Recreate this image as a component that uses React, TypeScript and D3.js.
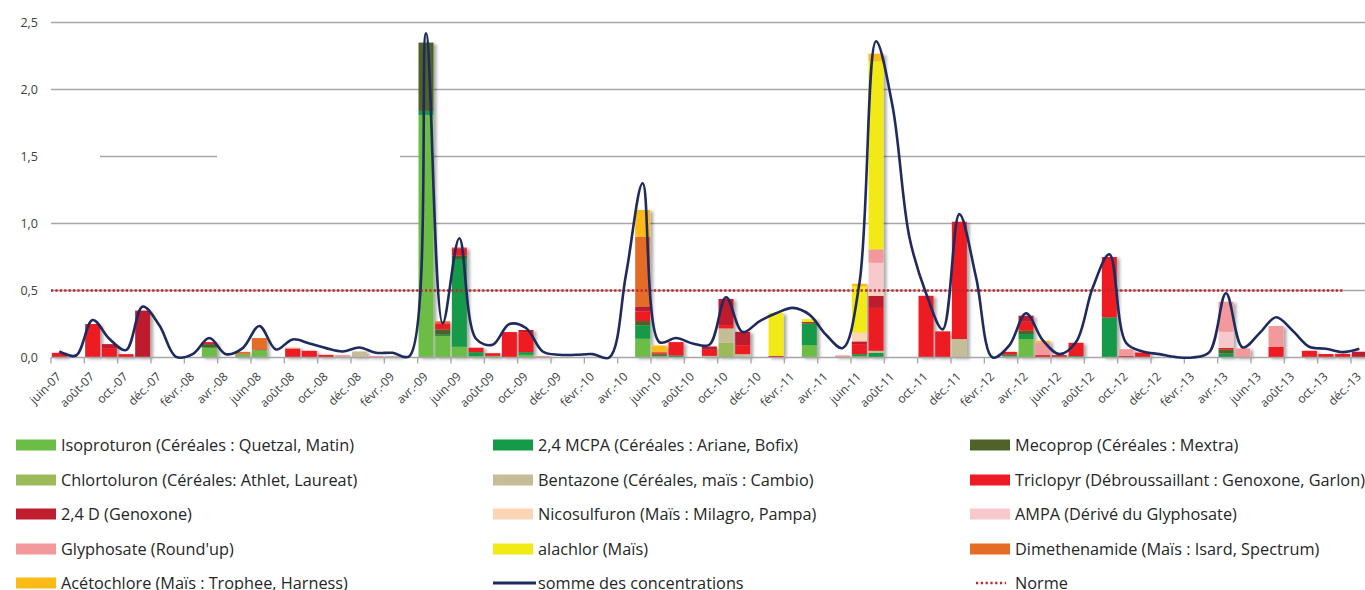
import React from "react";
import * as d3 from "d3";

// Monthly categories, juin-07 … déc.-13
const MONTHS = ["janv.", "févr.", "mars", "avr.", "mai", "juin", "juil.", "août", "sept.", "oct.", "nov.", "déc."];
const categories: string[] = [];
for (let yr = 2007; yr <= 2013; yr++) {
  for (let m = yr === 2007 ? 5 : 0; m < 12; m++) categories.push(`${MONTHS[m]}-${String(yr).slice(2)}`);
}

// Concentrations (µg/L) per month — one row per year (2007 starts in June)
const isoproturon = [
  0, 0, 0, 0, 0, 0, 0,
  0, 0, 0.07, 0, 0.025, 0.055, 0, 0, 0, 0, 0, 0,
  0, 0, 0, 1.81, 0.16, 0.08, 0.01, 0.012, 0, 0.02, 0, 0,
  0, 0, 0, 0, 0.14, 0.01, 0, 0, 0, 0, 0, 0,
  0, 0, 0.093, 0, 0, 0.01, 0, 0, 0, 0, 0, 0,
  0, 0, 0.008, 0.138, 0, 0, 0, 0, 0, 0, 0, 0,
  0, 0, 0, 0, 0, 0, 0, 0, 0, 0, 0, 0,
];
const mcpa = [
  0, 0, 0, 0, 0, 0, 0,
  0, 0, 0.005, 0, 0, 0, 0, 0, 0, 0, 0, 0,
  0, 0, 0, 0.03, 0.01, 0.655, 0.03, 0, 0, 0.02, 0, 0,
  0, 0, 0, 0, 0.1, 0.01, 0.015, 0, 0, 0, 0, 0,
  0, 0, 0.163, 0, 0, 0.015, 0.035, 0, 0, 0, 0, 0,
  0, 0, 0.012, 0.037, 0, 0, 0.01, 0, 0.3, 0, 0, 0,
  0, 0, 0, 0.03, 0, 0, 0, 0, 0, 0, 0, 0,
];
const mecoprop = [
  0, 0, 0, 0, 0, 0, 0,
  0, 0, 0.025, 0, 0, 0, 0, 0, 0, 0, 0, 0,
  0, 0, 0, 0.51, 0.04, 0.025, 0, 0, 0, 0, 0, 0,
  0, 0, 0, 0, 0.032, 0, 0, 0, 0, 0, 0, 0,
  0, 0, 0, 0, 0, 0, 0, 0, 0, 0, 0, 0,
  0, 0, 0, 0.025, 0, 0, 0, 0, 0, 0, 0, 0,
  0, 0, 0, 0.03, 0, 0, 0, 0, 0, 0, 0, 0,
];
const chlortoluron = [
  0, 0, 0, 0, 0, 0, 0,
  0, 0, 0, 0, 0, 0, 0, 0, 0, 0, 0, 0,
  0, 0, 0, 0, 0, 0, 0, 0, 0, 0, 0, 0,
  0, 0, 0, 0, 0, 0, 0, 0, 0, 0.11, 0, 0,
  0, 0, 0, 0, 0, 0, 0, 0, 0, 0, 0, 0,
  0, 0, 0, 0, 0, 0, 0, 0, 0, 0, 0, 0,
  0, 0, 0, 0, 0, 0, 0, 0, 0, 0, 0, 0,
];
const bentazone = [
  0, 0, 0, 0, 0, 0, 0,
  0, 0, 0, 0, 0, 0, 0, 0, 0, 0, 0, 0.045,
  0, 0.012, 0, 0, 0, 0, 0, 0, 0, 0, 0, 0,
  0, 0, 0, 0, 0, 0, 0, 0, 0.012, 0.107, 0.025, 0,
  0, 0, 0, 0, 0, 0, 0.015, 0, 0, 0, 0, 0.138,
  0, 0, 0, 0, 0, 0, 0, 0, 0, 0, 0, 0,
  0, 0, 0, 0, 0, 0, 0, 0, 0, 0, 0, 0,
];
const triclopyr = [
  0.035, 0, 0.25, 0.07, 0.025, 0, 0,
  0, 0, 0.015, 0, 0.005, 0, 0, 0.068, 0.05, 0.02, 0.005, 0,
  0, 0, 0, 0, 0.045, 0.055, 0.033, 0.02, 0.19, 0.15, 0, 0,
  0, 0, 0, 0, 0.072, 0.012, 0.1, 0, 0.045, 0.025, 0.067, 0,
  0.012, 0, 0.01, 0, 0, 0.075, 0.32, 0, 0, 0.46, 0.195, 0.875,
  0, 0, 0.022, 0.067, 0.018, 0.018, 0.1, 0, 0.45, 0.012, 0.037, 0,
  0, 0, 0, 0.012, 0, 0, 0.08, 0, 0.05, 0.026, 0.027, 0,
];
const d24 = [
  0, 0, 0, 0.03, 0, 0.35, 0,
  0, 0, 0, 0, 0, 0.005, 0, 0, 0, 0, 0, 0,
  0, 0, 0, 0, 0, 0.005, 0, 0, 0, 0.015, 0, 0,
  0, 0, 0, 0, 0.037, 0, 0, 0, 0.025, 0.195, 0.1, 0,
  0, 0, 0, 0, 0, 0.02, 0.09, 0, 0, 0, 0, 0,
  0, 0, 0, 0.045, 0, 0, 0, 0, 0, 0, 0, 0,
  0, 0, 0, 0, 0, 0, 0, 0, 0, 0, 0, 0.043,
];
const nicosulfuron = [
  0, 0, 0, 0, 0, 0, 0,
  0, 0, 0, 0, 0, 0, 0, 0.008, 0, 0, 0, 0,
  0, 0, 0, 0, 0, 0, 0, 0, 0, 0, 0, 0,
  0, 0, 0, 0, 0, 0, 0, 0, 0, 0, 0, 0,
  0, 0, 0, 0, 0, 0.067, 0.017, 0, 0, 0, 0, 0,
  0, 0, 0, 0, 0, 0, 0, 0, 0, 0, 0, 0,
  0, 0, 0, 0, 0, 0, 0, 0, 0, 0, 0, 0,
];
const ampa = [
  0, 0, 0, 0, 0, 0, 0,
  0, 0, 0, 0, 0, 0, 0, 0, 0, 0, 0, 0,
  0, 0, 0, 0, 0, 0, 0, 0, 0, 0, 0, 0,
  0, 0, 0, 0, 0, 0, 0, 0, 0, 0, 0, 0,
  0, 0, 0, 0, 0, 0, 0.23, 0, 0, 0, 0, 0,
  0, 0, 0, 0, 0, 0, 0, 0, 0, 0, 0, 0,
  0, 0, 0, 0.12, 0, 0, 0, 0, 0, 0, 0, 0,
];
const glyphosate = [
  0, 0, 0, 0, 0, 0, 0,
  0, 0, 0, 0, 0, 0, 0, 0, 0, 0, 0.013, 0,
  0.012, 0, 0, 0, 0, 0, 0, 0, 0, 0, 0.012, 0,
  0, 0, 0, 0, 0, 0, 0, 0, 0, 0, 0, 0,
  0, 0, 0, 0, 0.015, 0, 0.1, 0, 0, 0, 0, 0,
  0, 0, 0, 0, 0.095, 0, 0, 0, 0, 0.05, 0, 0,
  0, 0, 0, 0.224, 0.068, 0, 0.155, 0, 0, 0, 0, 0,
];
const alachlor = [
  0, 0, 0, 0, 0, 0, 0,
  0, 0, 0, 0, 0, 0, 0, 0, 0, 0, 0, 0,
  0, 0, 0, 0, 0, 0, 0, 0, 0, 0, 0, 0,
  0, 0, 0, 0, 0, 0, 0, 0, 0, 0, 0, 0,
  0.32, 0, 0.02, 0, 0, 0.345, 1.405, 0, 0, 0, 0, 0,
  0, 0, 0, 0, 0, 0, 0, 0, 0, 0, 0, 0,
  0, 0, 0, 0, 0, 0, 0, 0, 0, 0, 0, 0,
];
const dimethenamide = [
  0, 0, 0, 0, 0, 0, 0,
  0, 0, 0, 0, 0.012, 0.085, 0, 0, 0, 0, 0, 0,
  0, 0, 0, 0, 0.015, 0, 0, 0, 0, 0, 0, 0,
  0, 0, 0, 0, 0.52, 0.012, 0, 0, 0, 0, 0, 0,
  0, 0, 0, 0, 0, 0, 0, 0, 0, 0, 0, 0,
  0, 0, 0, 0, 0, 0, 0, 0, 0, 0, 0, 0,
  0, 0, 0, 0, 0, 0, 0, 0, 0, 0, 0, 0,
];
const acetochlore = [
  0, 0, 0, 0, 0, 0, 0,
  0, 0, 0, 0, 0, 0, 0, 0, 0, 0, 0, 0,
  0, 0, 0, 0, 0, 0, 0, 0, 0, 0, 0, 0,
  0, 0, 0, 0, 0.2, 0.045, 0, 0, 0, 0, 0, 0,
  0, 0, 0, 0, 0, 0.018, 0.055, 0, 0, 0, 0, 0,
  0, 0, 0, 0, 0.012, 0, 0, 0, 0, 0, 0, 0,
  0, 0, 0, 0, 0, 0, 0, 0, 0, 0, 0, 0,
];

// "somme des concentrations" curve
const somme = [
  0.045, 0.015, 0.28, 0.14, 0.055, 0.38, 0.24,
  0.005, 0.025, 0.145, 0.025, 0.07, 0.235, 0.06, 0.135, 0.105, 0.07, 0.045, 0.075,
  0.035, 0.035, 0.01, 2.42, 0.255, 0.89, 0.14, 0.095, 0.25, 0.22, 0.045, 0.02,
  0.02, 0.025, 0.0, 0.62, 1.3, 0.115, 0.145, 0.105, 0.095, 0.45, 0.19, 0.27,
  0.33, 0.37, 0.32, 0.17, 0.07, 0.55, 2.36, 1.87, 0.9, 0.48, 0.21, 1.07,
  0.6, 0.0, 0.09, 0.33, 0.13, 0.025, 0.115, 0.52, 0.77, 0.11, 0.045, 0.025,
  0.003, 0.0, 0.04, 0.48, 0.075, 0.18, 0.3, 0.2, 0.08, 0.065, 0.04, 0.065,
];

const NORME = 0.5;
const yTicks = [0, 0.5, 1.0, 1.5, 2.0, 2.5];

const series = [
  { key: "iso", label: "Isoproturon (Céréales : Quetzal, Matin)", color: "#6CBD45", values: isoproturon },
  { key: "mcpa", label: "2,4 MCPA (Céréales : Ariane, Bofix)", color: "#149A48", values: mcpa },
  { key: "meco", label: "Mecoprop (Céréales : Mextra)", color: "#4F6228", values: mecoprop },
  { key: "chlor", label: "Chlortoluron (Céréales: Athlet, Laureat)", color: "#9BBB59", values: chlortoluron },
  { key: "benta", label: "Bentazone (Céréales, maïs : Cambio)", color: "#C4BD97", values: bentazone },
  { key: "tric", label: "Triclopyr (Débroussaillant : Genoxone, Garlon)", color: "#ED1C24", values: triclopyr },
  { key: "d24", label: "2,4 D (Genoxone)", color: "#BE1E2D", values: d24 },
  { key: "nico", label: "Nicosulfuron (Maïs : Milagro, Pampa)", color: "#FBD5B5", values: nicosulfuron },
  { key: "ampa", label: "AMPA (Dérivé du Glyphosate)", color: "#F8C9CC", values: ampa },
  { key: "glyph", label: "Glyphosate (Round'up)", color: "#F4999B", values: glyphosate },
  { key: "alach", label: "alachlor (Maïs)", color: "#F2EA14", values: alachlor },
  { key: "dimeth", label: "Dimethenamide (Maïs : Isard, Spectrum)", color: "#E46C25", values: dimethenamide },
  { key: "aceto", label: "Acétochlore (Maïs : Trophee, Harness)", color: "#FBBA16", values: acetochlore },
];

const W = 1365;
const H = 590;
const FONT = "'Open Sans', Lato, sans-serif";
const LINE_COLOR = "#1F2A5E";
const NORME_COLOR = "#C0272D";
const GRID = "#A6A6A6";

export default function App() {
  const x = d3
    .scaleBand<string>()
    .domain(categories)
    .range([51, 51 + categories.length * 16.667])
    .paddingInner(0.1)
    .paddingOuter(0.05);
  const y = d3.scaleLinear().domain([0, 2.5]).range([357.5, 22.5]);
  const bw = x.bandwidth();
  const half = (x.step() * x.paddingInner()) / 2;
  const boundary = (c: string) => (x(c) as number) - half;
  const center = (c: string) => (x(c) as number) + bw / 2;

  const rows = categories.map((c, i) => {
    const r: Record<string, number | string> = { cat: c };
    series.forEach((s) => (r[s.key] = s.values[i]));
    return r;
  });
  const stacked = d3.stack<Record<string, number | string>>().keys(series.map((s) => s.key))(rows as any);

  const line = d3
    .line<number>()
    .x((_, i) => center(categories[i]))
    .y((v) => y(v))
    .curve(d3.curveCatmullRom.alpha(0.5));

  const plotRight = W;

  // legend: 3 columns, filled row by row
  const legendItems = [
    ...series.map((s) => ({ type: "rect", label: s.label, color: s.color })),
    { type: "line", label: "somme des concentrations", color: LINE_COLOR },
    { type: "dots", label: "Norme", color: NORME_COLOR },
  ];
  const colX = [16, 493, 970];
  const rowY = [445, 480, 514, 549, 583];

  return (
    <svg
      width={W}
      height={H}
      style={{ position: "absolute", left: 0, top: 0, background: "#fff", display: "block" }}
      fontFamily={FONT}
    >
      <defs>
        <filter id="barShadow" x="-20%" y="-5%" width="160%" height="115%">
          <feDropShadow dx="3" dy="1.5" stdDeviation="1.6" floodColor="#000" floodOpacity="0.33" />
        </filter>
      </defs>

      {/* horizontal gridlines */}
      {yTicks
        .filter((t) => t > 0)
        .map((t) =>
          t === 1.5 ? (
            <g key={t}>
              <line x1={100} x2={217} y1={y(t)} y2={y(t)} stroke={GRID} strokeWidth={1.4} />
              <line x1={400} x2={plotRight} y1={y(t)} y2={y(t)} stroke={GRID} strokeWidth={1.4} />
            </g>
          ) : (
            <line key={t} x1={51} x2={plotRight} y1={y(t)} y2={y(t)} stroke={GRID} strokeWidth={1.4} />
          )
        )}

      {/* y tick labels */}
      {yTicks.map((t) => (
        <text key={t} x={38} y={y(t)} dy="0.35em" textAnchor="end" fontSize={12.5} fill="#404040">
          {d3.format(".1f")(t).replace(".", ",")}
        </text>
      ))}

      {/* stacked bars */}
      <g filter="url(#barShadow)">
        {stacked.map((layer, si) => (
          <g key={layer.key} fill={series[si].color}>
            {layer.map((d, i) =>
              d[1] - d[0] > 0 ? (
                <rect
                  key={i}
                  x={x(categories[i])}
                  y={y(d[1])}
                  width={bw}
                  height={y(d[0]) - y(d[1])}
                />
              ) : null
            )}
          </g>
        ))}
      </g>

      {/* category axis */}
      <line x1={51} x2={plotRight} y1={y(0)} y2={y(0)} stroke={GRID} strokeWidth={1.5} />
      {categories.map((c, i) =>
        i % 2 === 0 ? (
          <g key={c}>
            <line x1={boundary(c)} x2={boundary(c)} y1={y(0)} y2={y(0) + 6} stroke={GRID} strokeWidth={1.3} />
            <text
              transform={`translate(${center(c) + 2.5},${y(0) + 20}) rotate(-45)`}
              textAnchor="end"
              fontSize={12}
              fill="#404040"
            >
              {c}
            </text>
          </g>
        ) : null
      )}

      {/* norme */}
      <line
        x1={51}
        x2={1343}
        y1={y(NORME)}
        y2={y(NORME)}
        stroke={NORME_COLOR}
        strokeWidth={2.4}
        strokeDasharray="2.2 2.2"
      />

      {/* sum curve */}
      <path d={line(somme) || ""} fill="none" stroke={LINE_COLOR} strokeWidth={2.6} />

      {/* legend */}
      {legendItems.map((it, k) => {
        const cx = colX[k % 3];
        const cy = rowY[Math.floor(k / 3)];
        return (
          <g key={it.label}>
            {it.type === "rect" && <rect x={cx} y={cy - 5.5} width={40} height={11} fill={it.color} />}
            {it.type === "line" && (
              <line x1={cx} x2={cx + 43} y1={cy} y2={cy} stroke={it.color} strokeWidth={3} />
            )}
            {it.type === "dots" && (
              <line
                x1={cx + 6}
                x2={cx + 36}
                y1={cy}
                y2={cy}
                stroke={it.color}
                strokeWidth={2.4}
                strokeDasharray="2.2 2.6"
              />
            )}
            <text x={cx + 45} y={cy} dy="0.36em" fontSize={16.3} fill="#262626">
              {it.label}
            </text>
          </g>
        );
      })}
    </svg>
  );
}
